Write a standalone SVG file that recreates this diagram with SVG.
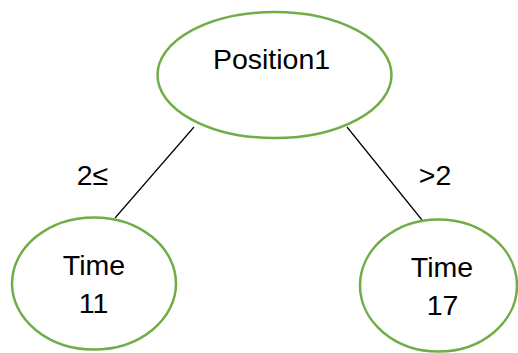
<svg xmlns="http://www.w3.org/2000/svg" width="518" height="353" viewBox="0 0 518 353">
<style>
.n{fill:#fff;stroke:#70AD47;stroke-width:2.5}
.t{font-family:"Liberation Sans",Arial,sans-serif;font-size:28.5px;fill:#000;text-anchor:middle}
.e{stroke:#000;stroke-width:1.2;fill:none}
</style>
<rect width="518" height="353" fill="#fff"/>
<g id="edges">
<line class="e" x1="194" y1="127" x2="115" y2="218"/>
<line class="e" x1="347" y1="127" x2="422" y2="220"/>
<text class="t" x="92.5" y="185">2≤</text>
<text class="t" x="435" y="185">&gt;2</text>
</g>
<g id="n_pos">
<ellipse class="n" cx="274.5" cy="75" rx="117" ry="63"/>
<text class="t" x="271.5" y="69">Position1</text>
</g>
<g id="n_left">
<ellipse class="n" cx="94" cy="283.5" rx="82" ry="66"/>
<text class="t" x="94" y="275">Time</text>
<text class="t" x="93.5" y="313">11</text>
</g>
<g id="n_right">
<ellipse class="n" cx="438.5" cy="285.5" rx="78.5" ry="66"/>
<text class="t" x="442" y="277">Time</text>
<text class="t" x="442.5" y="315">17</text>
</g>
</svg>
